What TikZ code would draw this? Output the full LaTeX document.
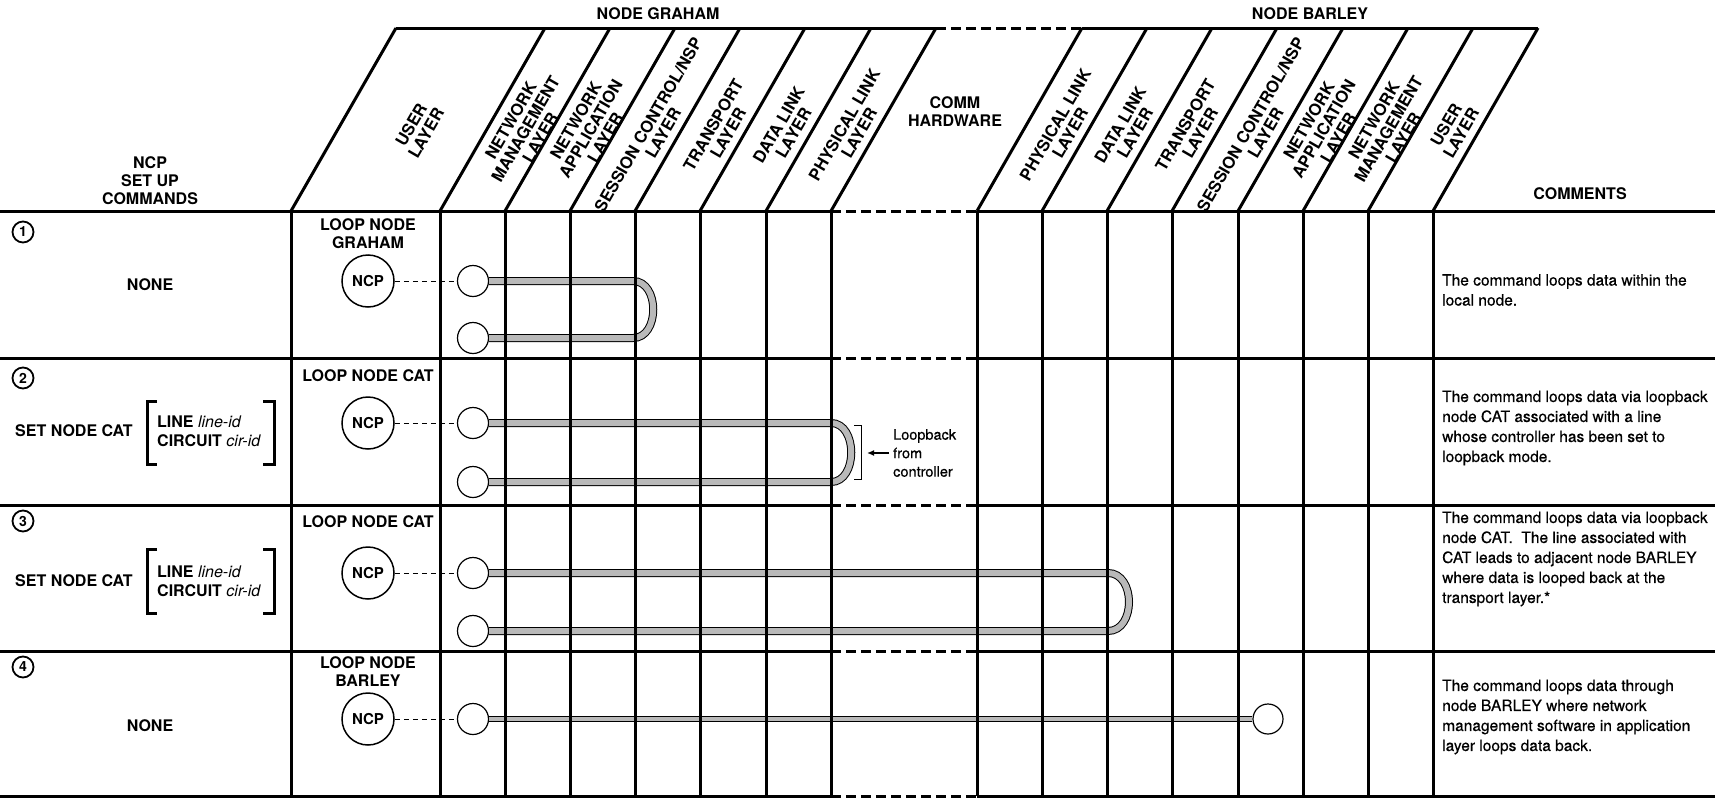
\documentclass[tikz,border=0pt]{standalone}
\usepackage{fontspec}
\setmainfont{TeX Gyre Heros}
\usetikzlibrary{arrows.meta}

\tikzset{
  rule/.style={line width=3pt},
  commrule/.style={line width=3pt, dash pattern=on 10pt off 5pt},
  layer/.style={rotate=60, align=center, inner sep=0pt, font=\bfseries\fontsize{16.5}{17}\selectfont},
  heading/.style={align=center, inner sep=0pt, font=\bfseries\fontsize{16}{18}\selectfont},
  option/.style={anchor=west, align=left, inner sep=0pt, font=\bfseries\fontsize{16}{19}\selectfont},
  stepno/.style={circle, draw, line width=1.8pt, minimum size=21pt, inner sep=0pt, font=\bfseries\fontsize{14}{14}\selectfont},
  ncp/.style={circle, draw, line width=1.5pt, minimum size=52pt, inner sep=0pt, font=\bfseries\fontsize{15}{15}\selectfont},
  port/.style={circle, draw, fill=white, line width=1.2pt, minimum size=31pt, inner sep=0pt},
  probe/.style={line width=1pt, dash pattern=on 5pt off 4pt},
  band/.style={line width=1pt, double=gray!55, double distance=6pt},
  thinband/.style={line width=0.8pt, double=gray!55, double distance=4pt},
  note/.style={anchor=west, align=left, inner sep=0pt, font=\addfontfeatures{FakeBold=0.5}\fontsize{15.5}{20}\selectfont},
  remark/.style={anchor=west, align=left, inner sep=0pt, font=\addfontfeatures{FakeBold=0.5}\fontsize{14.5}{18.5}\selectfont},
}

\begin{document}
\begin{tikzpicture}[x=1pt,y=-1pt]
    \useasboundingbox (0,0) rectangle (1733,798);

    % Headings
    \node[heading] (graham) at (658,14) {NODE GRAHAM};
    \node[heading] (barley) at (1310,14) {NODE BARLEY};
    \node[heading] (setup) at (150,181) {NCP\\SET UP\\COMMANDS};
    \node[heading] (comments) at (1580,194) {COMMENTS};
    \node[heading] (comm) at (955,112) {COMM\\HARDWARE};

    % Layer labels in the slanted columns
    \foreach \xa/\xb/\nm/\txt in {
        291/440/gusr/{USER\\LAYER},
        440/505/gnm/{NETWORK\\MANAGEMENT\\LAYER},
        505/570/gna/{NETWORK\\APPLICATION\\LAYER},
        570/635/gsc/{SESSION CONTROL/NSP\\LAYER},
        635/700/gtr/{TRANSPORT\\LAYER},
        700/766/gdl/{DATA LINK\\LAYER},
        766/831/gpl/{PHYSICAL LINK\\LAYER},
        977/1042/bpl/{PHYSICAL LINK\\LAYER},
        1042/1107/bdl/{DATA LINK\\LAYER},
        1107/1172/btr/{TRANSPORT\\LAYER},
        1172/1238/bsc/{SESSION CONTROL/NSP\\LAYER},
        1238/1303/bna/{NETWORK\\APPLICATION\\LAYER},
        1303/1368/bnm/{NETWORK\\MANAGEMENT\\LAYER},
        1368/1433/busr/{USER\\LAYER}}
        \node[layer] (\nm) at ({(\xa+\xb)/2+53},129) {\txt};

    % Row 1
    \node[stepno] (n1) at (23,232) {1};
    \node[heading] (cmd1) at (150,285) {NONE};
    \node[heading] (loop1) at (368,234) {LOOP NODE\\GRAHAM};
    \node[ncp] (ncp1) at (368,281) {NCP};
    \node[port] (p1a) at (473,281) {};
    \node[port] (p1b) at (473,338) {};
    \coordinate (t1) at (633,310);
    \node[note] (c1) at (1442,290) {The command loops data within the\\local node.};

    % Row 2
    \node[stepno] (n2) at (23,378) {2};
    \node[heading] (cmd2) at (74,431) {SET NODE CAT};
    \node[option] (opt2) at (157,431) {LINE {\normalfont\itshape line-id}\\CIRCUIT {\normalfont\itshape cir-id}};
    \draw[rule] (157,401) -- (147,401) -- (147,464) -- (157,464);
    \draw[rule] (263,401) -- (274,401) -- (274,464) -- (263,464);
    \node[heading] (loop2) at (368,376) {LOOP NODE CAT};
    \node[ncp] (ncp2) at (368,423) {NCP};
    \node[port] (p2a) at (473,423) {};
    \node[port] (p2b) at (473,482) {};
    \coordinate (t2) at (831,452);
    \node[remark] (lbk) at (893,453) {Loopback\\from\\controller};
    \coordinate (lbktip) at (867,453);
    \draw[line width=0.8pt] (854,425) -- (861,425) -- (861,479) -- (854,479);
    \draw[line width=1.5pt, -{Latex[length=7pt,width=6pt]}] ([xshift=-4pt]lbk.west) -- (lbktip);
    \node[note] (c2) at (1442,428) {The command loops data via loopback\\node CAT associated with a line\\whose controller has been set to\\loopback mode.};

    % Row 3
    \node[stepno] (n3) at (23,521) {3};
    \node[heading] (cmd3) at (74,581) {SET NODE CAT};
    \node[option] (opt3) at (157,581) {LINE {\normalfont\itshape line-id}\\CIRCUIT {\normalfont\itshape cir-id}};
    \draw[rule] (157,549) -- (147,549) -- (147,613) -- (157,613);
    \draw[rule] (263,549) -- (274,549) -- (274,613) -- (263,613);
    \node[heading] (loop3) at (368,522) {LOOP NODE CAT};
    \node[ncp] (ncp3) at (368,573) {NCP};
    \node[port] (p3a) at (473,573) {};
    \node[port] (p3b) at (473,631) {};
    \coordinate (t3) at (1108,602);
    \node[note] (c3) at (1442,559) {The command loops data via loopback\\node CAT.\ \ The line associated with\\CAT leads to adjacent node BARLEY\\where data is looped back at the\\transport layer.*};

    % Row 4
    \node[stepno] (n4) at (23,667) {4};
    \node[heading] (cmd4) at (150,726) {NONE};
    \node[heading] (loop4) at (368,672) {LOOP NODE\\BARLEY};
    \node[ncp] (ncp4) at (368,719) {NCP};
    \node[port] (p4a) at (473,719) {};
    \node[port, minimum size=30pt] (p4b) at (1268,719) {};
    \node[note] (c4) at (1442,717) {The command loops data through\\node BARLEY where network\\management software in application\\layer loops data back.};

    % NCP to loop node
    \draw[probe] (ncp1) -- (p1a);
    \draw[probe] (ncp2) -- (p2a);
    \draw[probe] (ncp3) -- (p3a);
    \draw[probe] (ncp4) -- (p4a);

    % Loop paths
    \draw[band] (p1a.east) -- (p1a.east -| t1) .. controls +(27,0) and +(27,0) .. (p1b.east -| t1) -- (p1b.east);
    \draw[band] (p2a.east) -- (p2a.east -| t2) .. controls +(27,0) and +(27,0) .. (p2b.east -| t2) -- (p2b.east);
    \draw[band] (p3a.east) -- (p3a.east -| t3) .. controls +(28,0) and +(28,0) .. (p3b.east -| t3) -- (p3b.east);
    \draw[thinband] (p4a.east) -- (p4b.west);

    % Slanted header lines and column lines
    \foreach \x in {291,440,505,570,635,700,766,831,977,1042,1107,1172,1238,1303,1368,1433} {
        \draw[rule] (\x,211) -- ++(105,-183);
        \draw[rule] (\x,211) -- (\x,796);
    }

    % Header top
    \draw[rule] (396,28) -- (936,28);
    \draw[commrule] (936,28) -- (1082,28);
    \draw[rule] (1082,28) -- (1538,28);

    % Row lines
    \foreach \y in {211,358,505,651,796} {
        \draw[rule] (0,\y) -- (831,\y);
        \draw[commrule] (831,\y) -- (977,\y);
        \draw[rule] (977,\y) -- (1715,\y);
    }

\end{tikzpicture}
\end{document}
